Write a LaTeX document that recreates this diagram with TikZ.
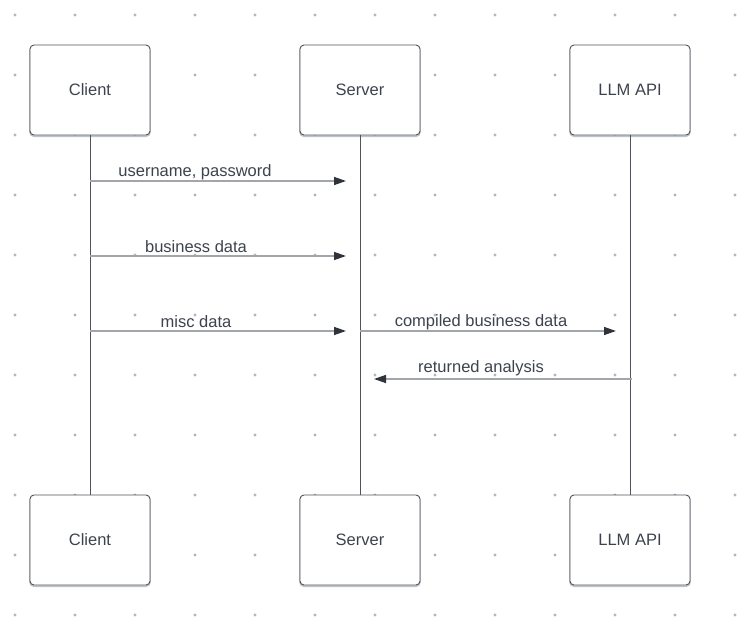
\documentclass[tikz,border=0pt]{standalone}
\usepackage{fontspec}
\setmainfont{Liberation Sans}
\usetikzlibrary{arrows.meta}
\definecolor{dotcol}{HTML}{B5B5B5}
\definecolor{boxcol}{HTML}{4F545C}
\definecolor{shadowcol}{HTML}{BFC2C6}
\definecolor{linecol}{HTML}{4F545C}
\definecolor{msgcol}{HTML}{A2A5AA}
\definecolor{tipcol}{HTML}{2F343C}
\definecolor{txtcol}{HTML}{3D434D}
\tikzset{
  actor/.style={draw=boxcol, fill=white, line width=0.9pt, rounded corners=4pt,
    minimum width=120pt, minimum height=90pt, inner sep=0pt,
    text=txtcol, font=\fontsize{16.5}{20}\selectfont,
    preaction={draw=shadowcol, line width=1.6pt, transform canvas={yshift=-1.2pt}}},
  lifeline/.style={draw=linecol, line width=0.9pt},
  msg/.style={draw=msgcol, line width=1.4pt, -{Triangle[length=12pt,width=8pt,color=tipcol]}},
  lbl/.style={text=txtcol, font=\fontsize{16.5}{20}\selectfont, inner sep=0pt}
}
\begin{document}
\begin{tikzpicture}[x=1pt,y=-1pt]
\useasboundingbox[fill=white] (0,0) rectangle (748,624);
\foreach \x in {15,75,...,735}
  \foreach \y in {15,75,...,615}
    \fill[dotcol] (\x,\y) circle (1.6pt);
% lifelines first
\node[actor] (cT) at (90,90) {Client};
\node[actor] (sT) at (360,90) {Server};
\node[actor] (lT) at (630,90) {LLM API};
\node[actor] (cB) at (90,540) {Client};
\node[actor] (sB) at (360,540) {Server};
\node[actor] (lB) at (630,540) {LLM API};
\draw[lifeline] (cT.south) -- (cB.north);
\draw[lifeline] (sT.south) -- (sB.north);
\draw[lifeline] (lT.south) -- (lB.north);
% message endpoints
\coordinate (a1) at (90,181);  \coordinate (b1) at (346,181);
\coordinate (a2) at (90,256);  \coordinate (b2) at (346,256);
\coordinate (a3) at (90,331);  \coordinate (b3) at (346,331);
\coordinate (a4) at (360,331); \coordinate (b4) at (616,331);
\coordinate (a5) at (632,379); \coordinate (b5) at (374,379);
\draw[msg] (a1) -- (b1);
\draw[msg] (a2) -- (b2);
\draw[msg] (a3) -- (b3);
\draw[msg] (a4) -- (b4);
\draw[msg] (a5) -- (b5);
\node[lbl] (t1) at (195,172) {username, password};
\node[lbl] (t2) at (196,247) {business data};
\node[lbl] (t3) at (196,322) {misc data};
\node[lbl] (t4) at (481,322) {compiled business data};
\node[lbl] (t5) at (481,368) {returned analysis};
\end{tikzpicture}
\end{document}
